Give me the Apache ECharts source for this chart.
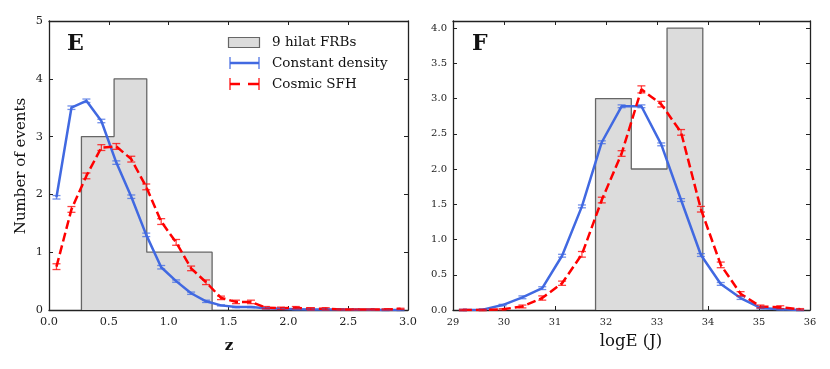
<!DOCTYPE html>
<html>
<head>
<meta charset="utf-8">
<script src="https://cdn.jsdelivr.net/npm/echarts@6/dist/echarts.min.js"></script>
<style>
html,body{margin:0;padding:0;background:#fff;}
#chart{width:830px;height:369px;}
</style>
</head>
<body>
<div id="chart"></div>
<script>
// ---------- Panel E (redshift z) ----------
const zCenters = [0.0625,0.1875,0.3125,0.4375,0.5625,0.6875,0.8125,0.9375,1.0625,1.1875,1.3125,1.4375,
                  1.5625,1.6875,1.8125,1.9375,2.0625,2.1875,2.3125,2.4375,2.5625,2.6875,2.8125,2.9375];
const zConst = [1.95,3.50,3.62,3.27,2.55,1.96,1.30,0.74,0.50,0.29,0.15,0.08,
                0.05,0.05,0.03,0.02,0.015,0.01,0.01,0.01,0.005,0.005,0.0,0.0];
const zConstErr = [0.03,0.03,0.03,0.03,0.03,0.03,0.03,0.03,0.02,0.02,0.02,0.01,
                   0.01,0.01,0.01,0.01,0.01,0.01,0.01,0.01,0.01,0.01,0.01,0.01];
const zSFH = [0.75,1.74,2.32,2.81,2.83,2.61,2.13,1.53,1.17,0.72,0.48,0.21,
              0.14,0.14,0.04,0.03,0.04,0.02,0.02,0.01,0.01,0.01,0.01,0.02];
const zSFHErr = [0.05,0.05,0.05,0.05,0.05,0.05,0.05,0.05,0.05,0.04,0.04,0.03,
                 0.03,0.03,0.02,0.02,0.02,0.02,0.02,0.01,0.01,0.01,0.01,0.01];
const zBinEdges = [0.271,0.544,0.817,1.090,1.363];
const zCounts = [3,4,1,1];
const zTicks = ['0.0','0.5','1.0','1.5','2.0','2.5','3.0'];
const zYTicks = ['0','1','2','3','4','5'];

// ---------- Panel F (log energy) ----------
const eCenters = [29.194,29.583,29.972,30.361,30.750,31.139,31.528,31.917,32.306,32.694,33.083,33.472,
                  33.861,34.250,34.639,35.028,35.417,35.806];
const eConst = [0.0,0.005,0.07,0.18,0.31,0.77,1.47,2.38,2.89,2.89,2.35,1.56,0.78,0.37,0.17,0.03,0.01,0.0];
const eConstErr = [0.01,0.01,0.01,0.02,0.02,0.02,0.02,0.02,0.02,0.02,0.02,0.02,0.02,0.02,0.02,0.01,0.01,0.01];
const eSFH = [0.0,0.0,0.01,0.05,0.17,0.38,0.79,1.56,2.22,3.13,2.92,2.52,1.43,0.64,0.23,0.05,0.04,0.01];
const eSFHErr = [0.01,0.01,0.01,0.02,0.03,0.03,0.04,0.04,0.04,0.05,0.04,0.04,0.04,0.04,0.03,0.02,0.02,0.01];
const eBinEdges = [31.795,32.496,33.197,33.898];
const eCounts = [3,2,4];
const eTicks = ['29','30','31','32','33','34','35','36'];
const eYTicks = ['0.0','0.5','1.0','1.5','2.0','2.5','3.0','3.5','4.0'];

// ---------- labels ----------
const legendNames = ['9 hilat FRBs','Constant density','Cosmic SFH'];
const panelLabels = ['E','F'];
const xNames = ['z','logE (J)'];
const yName = 'Number of events';

// ---------- style ----------
const FONT = 'DejaVu Serif';
const AX = '#222';
const BLUE = '#4169E1';
const RED = '#FF0000';
const HFILL = '#dcdcdc';
const HEDGE = '#666';

function stepPoints(edges, counts){
  const pts = [[edges[0],0]];
  for(let i=0;i<counts.length;i++){
    pts.push([edges[i],counts[i]]);
    pts.push([edges[i+1],counts[i]]);
  }
  pts.push([edges[edges.length-1],0]);
  return pts;
}
function pairs(xs, ys){ return xs.map((x,i)=>[x,ys[i]]); }
function errData(xs, ys, es){ return xs.map((x,i)=>[x, ys[i]-es[i], ys[i]+es[i]]); }

function errRender(color){
  return function(params, api){
    const x = api.value(0);
    const lo = api.coord([x, api.value(1)]);
    const hi = api.coord([x, api.value(2)]);
    const cw = 4;
    const st = {stroke: color, lineWidth: 1.3, opacity: 0.75};
    return {type:'group', children:[
      {type:'line', shape:{x1:lo[0],y1:lo[1],x2:hi[0],y2:hi[1]}, style:st},
      {type:'line', shape:{x1:lo[0]-cw,y1:lo[1],x2:lo[0]+cw,y2:lo[1]}, style:st},
      {type:'line', shape:{x1:hi[0]-cw,y1:hi[1],x2:hi[0]+cw,y2:hi[1]}, style:st}
    ]};
  };
}

function fmt(min, interval, labels){
  return function(v){
    const k = Math.round((v-min)/interval);
    return (labels[k]!==undefined && Math.abs(min+k*interval-v)<1e-6) ? labels[k] : '';
  };
}
function xAxisDef(grid, min, max, interval, labels, pos, fs){
  return {
    type:'value', gridIndex:grid, position:pos, min:min, max:max, interval:interval,
    axisLine:{show:true, onZero:false, lineStyle:{color:AX, width:1.3}},
    axisTick:{show:true, inside:true, length:4, lineStyle:{color:AX, width:1}},
    axisLabel:{show:pos==='bottom', fontFamily:FONT, fontSize:fs, color:AX, margin:7, formatter:fmt(min,interval,labels)},
    splitLine:{show:false}
  };
}
function yAxisDef(grid, min, max, interval, labels, pos, fs){
  return {
    type:'value', gridIndex:grid, position:pos, min:min, max:max, interval:interval,
    axisLine:{show:true, onZero:false, lineStyle:{color:AX, width:1.3}},
    axisTick:{show:true, inside:true, length:4, lineStyle:{color:AX, width:1}},
    axisLabel:{show:pos==='left', fontFamily:FONT, fontSize:fs, color:AX, margin:6, formatter:fmt(min,interval,labels)},
    splitLine:{show:false}
  };
}

const chart = echarts.init(document.getElementById('chart'), null, {renderer:'canvas'});

const option = {
  backgroundColor:'#fff',
  animation:false,
  grid:[
    {left:49, top:21, width:359, height:289, containLabel:false},
    {left:453, top:21, width:357, height:289, containLabel:false}
  ],
  xAxis:[
    xAxisDef(0, 0, 3, 0.5, zTicks, 'bottom', 11.3),
    xAxisDef(0, 0, 3, 0.5, zTicks, 'top', 11.3),
    xAxisDef(1, 29, 36, 1, eTicks, 'bottom', 9.8),
    xAxisDef(1, 29, 36, 1, eTicks, 'top', 9.8)
  ],
  yAxis:[
    yAxisDef(0, 0, 5, 1, zYTicks, 'left', 11.3),
    yAxisDef(0, 0, 5, 1, zYTicks, 'right', 11.3),
    yAxisDef(1, 0, 4.1, 0.5, eYTicks, 'left', 10),
    yAxisDef(1, 0, 4.1, 0.5, eYTicks, 'right', 10)
  ],
  series:[
    // Panel E
    {name:legendNames[0], type:'line', xAxisIndex:0, yAxisIndex:0, data:stepPoints(zBinEdges,zCounts),
     showSymbol:false, symbol:'none', lineStyle:{color:HEDGE, width:1.3}, areaStyle:{color:HFILL, opacity:1}, z:1},
    {name:legendNames[1], type:'line', xAxisIndex:0, yAxisIndex:0, data:pairs(zCenters,zConst),
     showSymbol:false, symbol:'none', lineStyle:{color:BLUE, width:2.5}, z:3},
    {name:legendNames[2], type:'line', xAxisIndex:0, yAxisIndex:0, data:pairs(zCenters,zSFH),
     showSymbol:false, symbol:'none', lineStyle:{color:RED, width:2.5, type:[9,4]}, z:4},
    {type:'custom', xAxisIndex:0, yAxisIndex:0, data:errData(zCenters,zConst,zConstErr),
     renderItem:errRender(BLUE), z:5, encode:{x:0, y:[1,2]}},
    {type:'custom', xAxisIndex:0, yAxisIndex:0, data:errData(zCenters,zSFH,zSFHErr),
     renderItem:errRender(RED), z:6, encode:{x:0, y:[1,2]}},
    // Panel F
    {name:legendNames[0], type:'line', xAxisIndex:2, yAxisIndex:2, data:stepPoints(eBinEdges,eCounts),
     showSymbol:false, symbol:'none', lineStyle:{color:HEDGE, width:1.3}, areaStyle:{color:HFILL, opacity:1}, z:1},
    {name:legendNames[1], type:'line', xAxisIndex:2, yAxisIndex:2, data:pairs(eCenters,eConst),
     showSymbol:false, symbol:'none', lineStyle:{color:BLUE, width:2.5}, z:3},
    {name:legendNames[2], type:'line', xAxisIndex:2, yAxisIndex:2, data:pairs(eCenters,eSFH),
     showSymbol:false, symbol:'none', lineStyle:{color:RED, width:2.5, type:[9,4]}, z:4},
    {type:'custom', xAxisIndex:2, yAxisIndex:2, data:errData(eCenters,eConst,eConstErr),
     renderItem:errRender(BLUE), z:5, encode:{x:0, y:[1,2]}},
    {type:'custom', xAxisIndex:2, yAxisIndex:2, data:errData(eCenters,eSFH,eSFHErr),
     renderItem:errRender(RED), z:6, encode:{x:0, y:[1,2]}}
  ],
  graphic:[
    // panel letters
    {type:'text', left:67, top:33, style:{text:panelLabels[0], font:'bold 22px "DejaVu Serif"', fill:'#111'}},
    {type:'text', left:472, top:33, style:{text:panelLabels[1], font:'bold 22px "DejaVu Serif"', fill:'#111'}},
    // axis names
    {type:'text', x:229, y:346, style:{text:xNames[0], font:'bold 15px "DejaVu Serif"', fill:'#111', align:'center', verticalAlign:'middle'}},
    {type:'text', x:631, y:342, style:{text:xNames[1], font:'16.5px "DejaVu Serif"', fill:'#111', align:'center', verticalAlign:'middle'}},
    {type:'text', x:21, y:166, rotation:Math.PI/2, style:{text:yName, font:'15px "DejaVu Serif"', fill:'#111', align:'center', verticalAlign:'middle'}},
    // legend: histogram patch
    {type:'rect', shape:{x:228.5, y:37.5, width:31, height:10}, style:{fill:HFILL, stroke:HEDGE, lineWidth:1.2}, z:10},
    {type:'text', x:272, y:42, style:{text:legendNames[0], font:'13.5px "DejaVu Serif"', fill:'#111', verticalAlign:'middle'}, z:10},
    // legend: constant density
    {type:'line', shape:{x1:230, y1:63, x2:259, y2:63}, style:{stroke:BLUE, lineWidth:2.5}, z:10},
    {type:'line', shape:{x1:230, y1:57, x2:230, y2:69}, style:{stroke:BLUE, lineWidth:1.5, opacity:0.8}, z:10},
    {type:'line', shape:{x1:259, y1:57, x2:259, y2:69}, style:{stroke:BLUE, lineWidth:1.5, opacity:0.8}, z:10},
    {type:'text', x:272, y:63, style:{text:legendNames[1], font:'13.5px "DejaVu Serif"', fill:'#111', verticalAlign:'middle'}, z:10},
    // legend: cosmic SFH
    {type:'line', shape:{x1:230, y1:84, x2:240, y2:84}, style:{stroke:RED, lineWidth:2.5}, z:10},
    {type:'line', shape:{x1:248, y1:84, x2:259, y2:84}, style:{stroke:RED, lineWidth:2.5}, z:10},
    {type:'line', shape:{x1:230, y1:78, x2:230, y2:90}, style:{stroke:RED, lineWidth:1.5, opacity:0.8}, z:10},
    {type:'line', shape:{x1:259, y1:78, x2:259, y2:90}, style:{stroke:RED, lineWidth:1.5, opacity:0.8}, z:10},
    {type:'text', x:272, y:84, style:{text:legendNames[2], font:'13.5px "DejaVu Serif"', fill:'#111', verticalAlign:'middle'}, z:10}
  ]
};
chart.setOption(option);
</script>
</body>
</html>
